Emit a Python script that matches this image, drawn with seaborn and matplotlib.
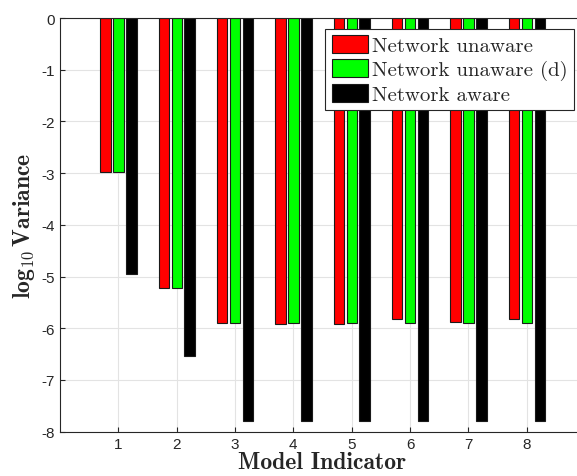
import numpy as np
import pandas as pd
import matplotlib
matplotlib.use("Agg")
import matplotlib.pyplot as plt
import seaborn as sns

# values (log10 of variance)
models = [1, 2, 3, 4, 5, 6, 7, 8]
unaware = [-2.97, -5.23, -5.89, -5.91, -5.92, -5.83, -5.87, -5.82]
unaware_d = [-2.97, -5.23, -5.89, -5.89, -5.89, -5.89, -5.89, -5.89]
aware = [-4.95, -6.53, -7.79, -7.79, -7.79, -7.79, -7.79, -7.79]
series_names = ["Network unaware", "Network unaware (d)", "Network aware"]

df = pd.DataFrame({
    "model": models * 3,
    "value": unaware + unaware_d + aware,
    "method": [series_names[0]] * 8 + [series_names[1]] * 8 + [series_names[2]] * 8,
})

sns.set_style("ticks")
plt.rcParams["font.family"] = ["Liberation Sans", "DejaVu Sans"]
plt.rcParams["axes.unicode_minus"] = False
plt.rcParams["mathtext.fontset"] = "cm"

fig = plt.figure(figsize=(5.77, 4.77), dpi=100)
# axes reach past the right edge, as in the cropped original
ax = fig.add_axes([0.104, 0.093, 0.910, 0.867])

sns.barplot(data=df, x="model", y="value", hue="method", native_scale=True,
            palette=["#ff0000", "#00ff00", "#000000"], saturation=1,
            width=0.667, gap=0.2, edgecolor="#1a1a1a", linewidth=0.8,
            errorbar=None, ax=ax)

ax.set_xlim(0, 9)
ax.set_ylim(-8, 0)
ax.set_xticks(models)
ax.set_yticks(range(-8, 1))
ax.grid(True, color="#e3e3e3", linewidth=0.8)
ax.set_axisbelow(True)
ax.tick_params(direction="in", length=3.5, width=0.8, labelsize=11,
               colors="#262626", top=False, right=False)
for s in ax.spines.values():
    s.set_color("#262626")
    s.set_linewidth(0.8)
ax.spines["right"].set_visible(False)

ax.set_xlabel("Model Indicator", family="cmb10", fontsize=17, color="#262626", labelpad=0)
ax.set_ylabel(r"$\mathbf{log_{10}\,Variance}$", fontsize=17, color="#262626", labelpad=3)

leg = ax.legend(loc="upper right", bbox_to_anchor=(0.995, 0.937),
                bbox_transform=fig.transFigure, prop={"family": "cmr10", "size": 15},
                frameon=True, fancybox=False, framealpha=1, borderpad=0.3,
                handlelength=1.75, handleheight=0.9, handletextpad=0.2,
                labelspacing=0.2, borderaxespad=0)
leg.get_frame().set_edgecolor("#262626")
leg.get_frame().set_linewidth(0.8)

fig.savefig("out.png", dpi=100)
